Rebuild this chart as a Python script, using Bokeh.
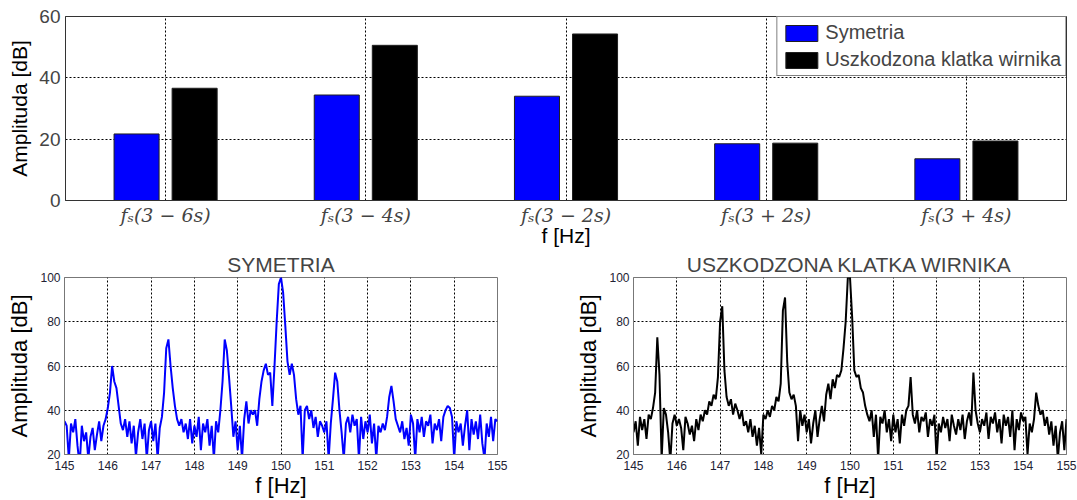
from bokeh.plotting import figure
from bokeh.layouts import column, row
from bokeh.models import Range1d, FixedTicker, ColumnDataSource
from bokeh.transform import dodge
from bokeh.embed import file_html
from bokeh.resources import INLINE

# ---------------- data ----------------
categories = [1, 2, 3, 4, 5]
category_labels = ["fₛ(3 − 6s)", "fₛ(3 − 4s)", "fₛ(3 − 2s)", "fₛ(3 + 2s)", "fₛ(3 + 4s)"]
symetria_db = [21.7, 34.4, 34.0, 18.5, 13.6]
uszkodzona_db = [36.6, 50.6, 54.3, 18.7, 19.4]

freq_start = 145.0
freq_step = 0.05

spectrum_symetria = [
    35, 33, 18, 34, 30, 36, 24, 15, 33, 26, 30, 18, 28, 32, 22, 29, 35, 26, 33, 36,
    41, 48, 60, 53, 50, 42, 34, 31, 36, 28, 35, 25, 33, 19, 30, 36, 27, 34, 18, 31,
    35, 26, 34, 18, 32, 37, 48, 68, 72, 60, 50, 42, 36, 33, 36, 30, 34, 27, 36, 25,
    33, 28, 37, 22, 34, 30, 36, 24, 33, 18, 35, 30, 40, 53, 72, 67, 55, 42, 28, 35,
    22, 33, 18, 36, 44, 34, 40, 38, 40, 33, 45, 53, 58, 61, 56, 57, 42, 60, 80, 97,
    100, 93, 78, 62, 56, 61, 56, 45, 38, 42, 18, 40, 42, 36, 40, 32, 37, 28, 35, 33,
    30, 35, 18, 34, 45, 57, 53, 40, 30, 18, 34, 37, 30, 38, 33, 36, 18, 37, 27, 35,
    30, 38, 25, 34, 18, 33, 30, 34, 31, 37, 46, 51, 44, 36, 33, 30, 35, 27, 32, 24,
    38, 34, 18, 36, 30, 37, 28, 35, 33, 38, 25, 34, 31, 36, 26, 37, 40, 42, 41, 37,
    18, 35, 30, 34, 24, 33, 40, 22, 36, 29, 35, 27, 38, 25, 18, 34, 28, 37, 26, 36,
    35,
]

spectrum_uszkodzona = [
    30, 35, 24, 37, 31, 36, 27, 38, 36, 41, 48, 73, 56, 18, 41, 38, 30, 17, 34, 38,
    33, 36, 32, 22, 37, 34, 29, 33, 26, 36, 31, 38, 35, 40, 38, 44, 42, 47, 45, 55,
    80, 87, 58, 46, 42, 45, 38, 43, 40, 36, 40, 33, 35, 30, 36, 28, 33, 24, 32, 20,
    38, 36, 40, 37, 42, 40, 46, 44, 52, 85, 91, 62, 48, 45, 47, 42, 26, 40, 33, 38,
    30, 36, 25, 34, 40, 28, 36, 42, 35, 47, 52, 45, 54, 50, 56, 55, 58, 68, 80, 100,
    100, 82, 58, 55, 56, 50, 48, 42, 38, 35, 40, 28, 38, 18, 37, 34, 40, 30, 36, 26,
    38, 30, 36, 25, 38, 33, 40, 42, 55, 38, 34, 40, 30, 37, 35, 39, 28, 36, 33, 38,
    18, 34, 30, 37, 32, 36, 26, 38, 33, 29, 36, 31, 38, 27, 35, 39, 33, 57, 40, 34,
    30, 36, 33, 39, 27, 37, 34, 39, 30, 36, 25, 38, 33, 37, 28, 40, 22, 36, 31, 39,
    35, 37, 20, 34, 30, 36, 48, 42, 38, 40, 33, 37, 29, 35, 24, 33, 18, 30, 35, 22,
    36,
]

freq_ticks = [145, 146, 147, 148, 149, 150, 151, 152, 153, 154, 155]
amp_ticks_bottom = [20, 40, 60, 80, 100]
amp_ticks_top = [0, 20, 40, 60]

FONT = "Liberation Sans"


def freqs(n):
    return [round(freq_start + i * freq_step, 4) for i in range(n)]


# ---------------- top bar chart ----------------
bar_src = ColumnDataSource(dict(x=categories, sym=symetria_db, usz=uszkodzona_db))

top = figure(width=1077, height=250, x_range=Range1d(0.5, 5.5), y_range=Range1d(0, 60),
             output_backend="svg", toolbar_location=None,
             min_border_left=65, min_border_right=11, min_border_top=16, min_border_bottom=50)
top.vbar(x=dodge("x", -0.145), top="sym", width=0.225, source=bar_src,
         fill_color="#0000ff", line_color="#202020", line_width=1, legend_label="Symetria")
top.vbar(x=dodge("x", 0.145), top="usz", width=0.225, source=bar_src,
         fill_color="#000000", line_color="#202020", line_width=1,
         legend_label="Uszkodzona klatka wirnika")

top.xaxis.ticker = FixedTicker(ticks=categories)
top.xaxis.major_label_overrides = {c: l for c, l in zip(categories, category_labels)}
top.yaxis.ticker = FixedTicker(ticks=amp_ticks_top)
top.xaxis.axis_label = "f [Hz]"
top.yaxis.axis_label = "Amplituda [dB]"

for ax in top.xaxis + top.yaxis:
    ax.axis_label_text_font = FONT
    ax.axis_label_text_font_style = "normal"
    ax.axis_label_text_font_size = "21px"
    ax.axis_label_text_line_height = 1.0
    ax.major_label_text_line_height = 1.0
    ax.axis_label_text_color = "#000000"
    ax.major_tick_in = 0
    ax.major_tick_out = 0
    ax.minor_tick_line_color = None
    ax.axis_line_color = "#333333"
top.xaxis.major_label_text_font = "DejaVu Serif"
top.xaxis.major_label_text_font_style = "italic"
top.xaxis.major_label_text_font_size = "19px"
top.xaxis.major_label_standoff = 3
top.xaxis.axis_label_standoff = -5
top.yaxis.major_label_text_font = FONT
top.yaxis.major_label_text_font_size = "19px"
top.yaxis.major_label_standoff = 5
top.yaxis.axis_label_standoff = 5

top.grid.grid_line_color = "#000000"
top.grid.grid_line_dash = "2 2"
top.grid.grid_line_width = 1
top.outline_line_color = "#333333"
top.outline_line_alpha = 1

top.legend.location = "top_right"
top.legend.margin = 0
top.legend.padding = 4
top.legend.spacing = 4
top.legend.glyph_width = 40
top.legend.glyph_height = 20
top.legend.label_standoff = 4
top.legend.label_height = 20
top.legend.label_text_font = FONT
top.legend.label_text_font_size = "20px"
top.legend.border_line_color = "#000000"
top.legend.border_line_width = 1
top.legend.background_fill_alpha = 1


# ---------------- bottom spectra ----------------
def spectrum_fig(title, values, color, width, left, right):
    f = figure(width=width, height=250, title=title,
               x_range=Range1d(145, 155), y_range=Range1d(20, 100),
               output_backend="svg", toolbar_location=None,
               min_border_left=left, min_border_right=right,
               min_border_top=27, min_border_bottom=43)
    src = ColumnDataSource(dict(f=freqs(len(values)), a=values))
    f.line("f", "a", source=src, line_color=color, line_width=2)
    f.xaxis.ticker = FixedTicker(ticks=freq_ticks)
    f.yaxis.ticker = FixedTicker(ticks=amp_ticks_bottom)
    f.xaxis.axis_label = "f [Hz]"
    f.yaxis.axis_label = "Amplituda [dB]"
    for ax in f.xaxis + f.yaxis:
        ax.axis_label_text_font = FONT
        ax.axis_label_text_font_style = "normal"
        ax.axis_label_text_font_size = "22px"
        ax.axis_label_text_line_height = 1.0
        ax.major_label_text_line_height = 1.0
        ax.axis_label_text_color = "#000000"
        ax.major_label_text_font = FONT
        ax.major_label_text_font_size = "12px"
        ax.major_label_text_color = "#222233"
        ax.major_tick_in = 0
        ax.major_tick_out = 0
        ax.minor_tick_line_color = None
        ax.axis_line_color = "#777777"
    f.xaxis.major_label_standoff = 6
    f.xaxis.axis_label_standoff = 0
    f.yaxis.major_label_standoff = 4
    f.yaxis.axis_label_standoff = 5
    f.grid.grid_line_color = "#000000"
    f.grid.grid_line_dash = "2 2"
    f.grid.grid_line_width = 1
    f.outline_line_color = "#777777"
    f.outline_line_alpha = 1
    f.title.align = "center"
    f.title.vertical_align = "top"
    f.title.text_font = FONT
    f.title.text_font_style = "normal"
    f.title.text_font_size = "21px"
    f.title.text_line_height = 1.0
    f.title.standoff = 0
    return f


left_fig = spectrum_fig("SYMETRIA", spectrum_symetria, "#0000ff", 560, 64, 63)
right_fig = spectrum_fig("USZKODZONA KLATKA WIRNIKA", spectrum_uszkodzona, "#000000", 517, 73, 11)

layout = column(top, row(left_fig, right_fig))
open("out.html", "w").write(file_html(layout, INLINE))
